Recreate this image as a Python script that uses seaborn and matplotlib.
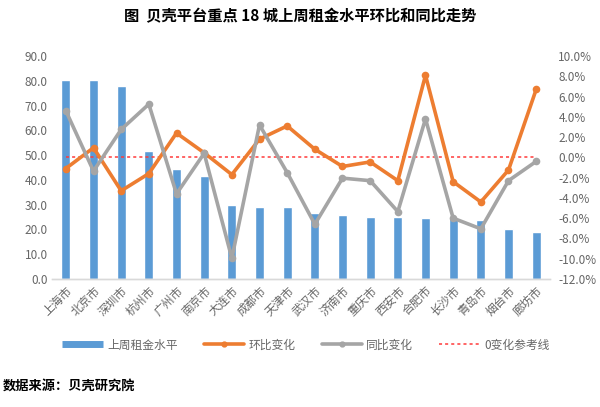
import numpy as np
import pandas as pd
import matplotlib
matplotlib.use("Agg")
import matplotlib.pyplot as plt
import seaborn as sns
from matplotlib.lines import Line2D

cities = ["上海市", "北京市", "深圳市", "杭州市", "广州市", "南京市", "大连市", "成都市", "天津市",
          "武汉市", "济南市", "重庆市", "西安市", "合肥市", "长沙市", "青岛市", "烟台市", "廊坊市"]
rent_level = [80.5, 80.5, 78.0, 51.5, 44.5, 41.5, 30.0, 29.0, 29.0,
              26.6, 25.8, 25.0, 25.0, 24.6, 24.6, 23.9, 20.1, 18.8]
mom_change = [-1.1, 0.95, -3.3, -1.6, 2.4, 0.45, -1.7, 1.8, 3.1,
              0.8, -0.9, -0.45, -2.3, 8.1, -2.4, -4.4, -1.25, 6.7]
yoy_change = [4.6, -1.35, 2.75, 5.25, -3.6, 0.4, -9.95, 3.2, -1.5,
              -6.6, -2.05, -2.3, -5.35, 3.8, -6.0, -7.05, -2.3, -0.4]
ref_line = [0.0] * len(cities)

sns.set_theme(style="white")
plt.rcParams["font.family"] = ["Noto Sans CJK SC", "DejaVu Sans"]

BLUE = "#5B9BD5"
ORANGE = "#ED7D31"
GRAY = "#A5A5A5"
TXT = "#666666"
RED = "#FF3B3B"

df = pd.DataFrame({"city": cities, "rent": rent_level, "mom": mom_change,
                   "yoy": yoy_change, "ref": ref_line})
df["pos"] = np.arange(len(df))

fig = plt.figure(figsize=(6.0, 4.07), dpi=100)
ax = fig.add_axes([52 / 600, 1 - 279 / 407, 498 / 600, 223 / 407])
ax2 = ax.twinx()

# bars on the left axis
sns.barplot(data=df, x="city", y="rent", color=BLUE, width=0.33, saturation=1,
            ax=ax, zorder=2)
ax.set_ylim(0, 90)
ax.set_yticks(np.arange(0, 91, 10))
ax.set_yticklabels([f"{v:.1f}" for v in np.arange(0, 91, 10)])
ax.set_xlim(-0.5, len(cities) - 0.5)
ax.set_xlabel("")
ax.set_ylabel("")

# lines on the right axis (percent)
ax2.plot(df["pos"], df["ref"], color=RED, linestyle=(0, (2, 2)), linewidth=1.1,
         zorder=3)
sns.lineplot(data=df, x="pos", y="mom", color=ORANGE, linewidth=2.6, marker="o",
             markersize=5.5, markeredgewidth=0, ax=ax2, zorder=4)
sns.lineplot(data=df, x="pos", y="yoy", color=GRAY, linewidth=2.6, marker="o",
             markersize=5.5, markeredgewidth=0, ax=ax2, zorder=5)
ax2.set_ylim(-12, 10)
ax2.set_yticks(np.arange(-12, 11, 2))
ax2.set_yticklabels([f"{v:.1f}%" for v in np.arange(-12, 11, 2)])
ax2.set_xlim(-0.5, len(cities) - 0.5)
ax2.set_xlabel("")
ax2.set_ylabel("")

for a in (ax, ax2):
    for s in ("top", "left", "right"):
        a.spines[s].set_visible(False)
    a.spines["bottom"].set_color("#D9D9D9")
    a.spines["bottom"].set_linewidth(1.0)
    a.tick_params(axis="both", length=0, labelsize=8.5, labelcolor=TXT, pad=3)
    a.grid(False)

ax.set_xticks(np.arange(len(cities)))
ax.set_xticklabels(cities, rotation=45, ha="right", rotation_mode="anchor")
ax.tick_params(axis="x", pad=4)
ax2.tick_params(axis="y", pad=6)

handles = [
    Line2D([], [], color=BLUE, linewidth=5, solid_capstyle="butt"),
    Line2D([], [], color=ORANGE, linewidth=2.6, marker="o", markersize=3.5),
    Line2D([], [], color=GRAY, linewidth=2.6, marker="o", markersize=3.5),
    Line2D([], [], color=RED, linestyle=(0, (2, 2)), linewidth=1.1),
]
labels = ["上周租金水平", "环比变化", "同比变化", "0变化参考线"]
fig.legend(handles, labels, loc="center", bbox_to_anchor=(0.51, 1 - 345 / 407), ncol=4,
           frameon=False, fontsize=8.5, labelcolor=TXT, handlelength=3.4,
           columnspacing=2.2, handletextpad=0.4)

fig.text(0.5, 1 - 16 / 407, "图  贝壳平台重点 18 城上周租金水平环比和同比走势",
         ha="center", va="center", fontsize=11, fontweight="bold", color="black")
fig.text(0.005, 1 - 387 / 407, "数据来源：贝壳研究院", ha="left", va="center",
         fontsize=9.5, fontweight="bold", color="black")

fig.savefig("out.png", dpi=100)
